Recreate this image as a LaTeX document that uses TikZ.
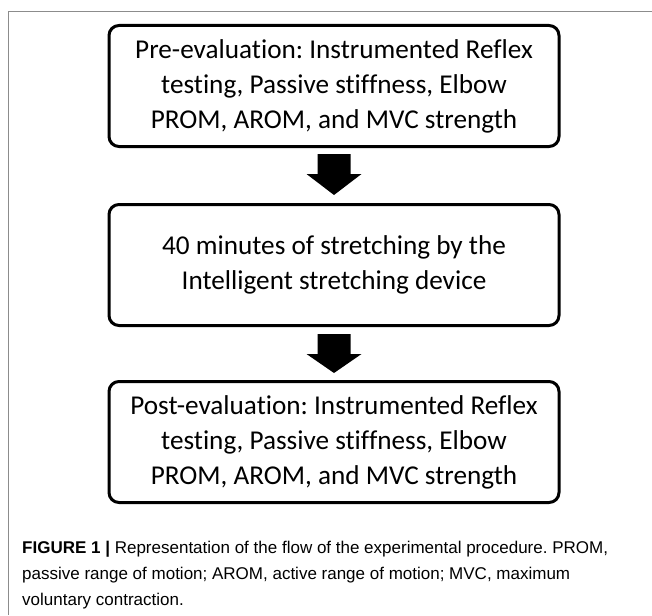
\documentclass[tikz,border=0pt]{standalone}
\usepackage{fontspec}
\setmainfont{Carlito}[Ligatures={NoCommon}]
\newfontfamily\capfont{Liberation Sans}
\usetikzlibrary{calc}
\frenchspacing
\tikzset{
  flowbox/.style={draw, line width=3pt, rounded corners=10pt, minimum width=450pt,
    minimum height=121pt, align=center, inner sep=0pt,
    font=\fontsize{27.2}{35}\selectfont},
  caption/.style={anchor=base west, inner sep=0pt, font=\capfont\fontsize{17}{26}\selectfont},
  frameline/.style={draw=black!45, line width=1pt}
}
\begin{document}
\begin{tikzpicture}[x=1pt, y=-1pt]
\useasboundingbox (0,0) rectangle (652,615);
\coordinate (fa) at (8,615);
\coordinate (fb) at (8,12);
\coordinate (fc) at (652,12);
\draw[frameline] (fa) -- (fb) -- (fc);

\node[flowbox] (b1) at (334,86) {Pre-evaluation: Instrumented Reflex\\testing, Passive stiffness, Elbow\\PROM, AROM, and MVC strength};
\node[flowbox] (b2) at (334,265) {40 minutes of stretching by the\\Intelligent stretching device};
\node[flowbox] (b3) at (334,442) {Post-evaluation: Instrumented Reflex\\testing, Passive stiffness, Elbow\\PROM, AROM, and MVC strength};

\fill ($(b1.south)+(-16.5,6)$) -- ++(33,0) -- ++(0,20) -- ++(11,0)
  -- ($(b2.north)+(0,-8)$) -- ($(b1.south)+(-27.5,26)$) -- ++(11,0) -- cycle;
\fill ($(b2.south)+(-16.5,7)$) -- ++(33,0) -- ++(0,20) -- ++(11,0)
  -- ($(b3.north)+(0,-7)$) -- ($(b2.south)+(-27.5,27)$) -- ++(11,0) -- cycle;

\node[caption] (c1) at (22,553) {\textbf{FIGURE 1 |} Representation of the flow of the experimental procedure. PROM,};
\node[caption] (c2) at (22,579) {passive range of motion; AROM, active range of motion; MVC, maximum};
\node[caption] (c3) at (22,605) {voluntary contraction.};
\end{tikzpicture}
\end{document}
